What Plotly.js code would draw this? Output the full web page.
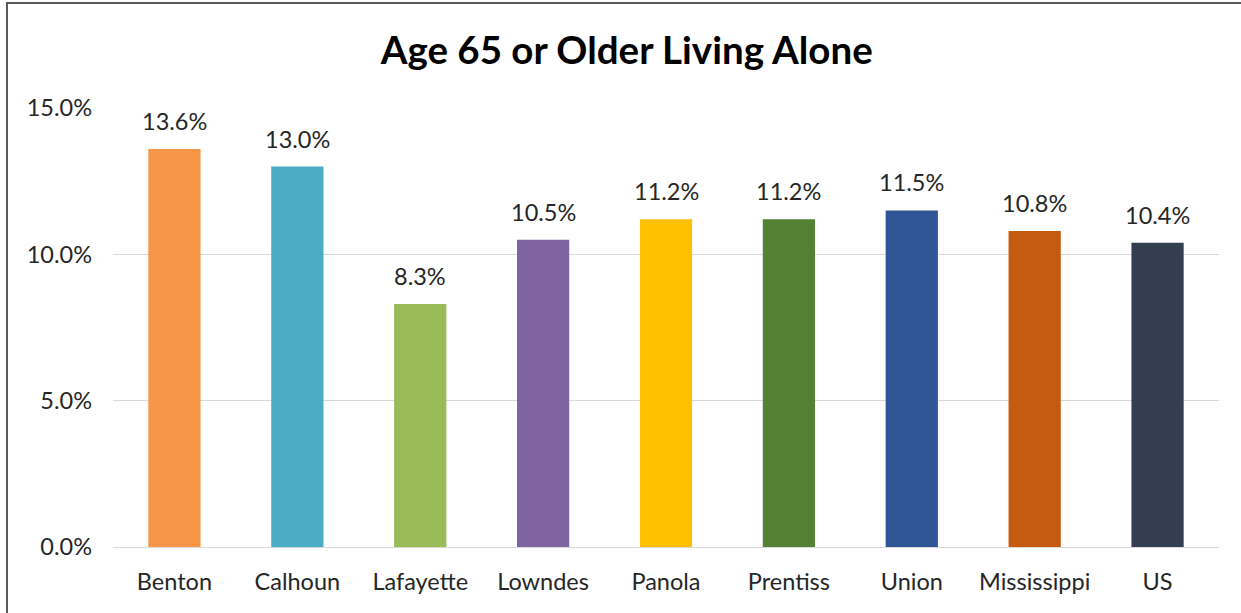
<!DOCTYPE html>
<html>
<head>
<meta charset="utf-8">
<script src="https://cdn.plot.ly/plotly-3.0.1.min.js"></script>
<style>
  html, body { margin: 0; padding: 0; background: #fff; }
  #frame { position: absolute; left: 6px; top: 2px; width: 1240px; height: 620px;
           border-left: 2px solid #595959; border-top: 2px solid #595959; pointer-events: none; z-index: 5; }
  #chart { position: absolute; left: 0; top: 0; width: 1241px; height: 613px; }
</style>
</head>
<body>
<div id="chart"></div>
<div id="frame"></div>
<script>
const categories = ["Benton", "Calhoun", "Lafayette", "Lowndes", "Panola", "Prentiss", "Union", "Mississippi", "US"];
const values = [13.6, 13.0, 8.3, 10.5, 11.2, 11.2, 11.5, 10.8, 10.4];
const barColors = ["#F79646", "#4BACC6", "#9BBB59", "#8064A2", "#FFC000", "#548235", "#2F5597", "#C55A11", "#333F50"];
const yTicks = [0, 5, 10, 15];

const fontFam = "Lato, 'Open Sans', sans-serif";
const textColor = "#262626";

const trace = {
  type: "bar",
  x: categories,
  y: values,
  marker: { color: barColors },
  hoverinfo: "skip"
};

const annotations = categories.map((c, i) => ({
  x: c, y: values[i], xref: "x", yref: "y",
  text: values[i].toFixed(1) + "%",
  showarrow: false, yanchor: "bottom", yshift: 12,
  font: { family: fontFam, size: 23.5, color: textColor }
}));

const layout = {
  width: 1241, height: 613,
  margin: { l: 113, r: 22, t: 108, b: 66 },
  paper_bgcolor: "#fff", plot_bgcolor: "#fff",
  bargap: 0.575,
  showlegend: false,
  title: { text: "<b>Age 65 or Older Living Alone</b>", x: 0.505, xanchor: "center", y: 0.918, yanchor: "middle",
           font: { family: fontFam, size: 38.5, color: "#000" } },
  xaxis: { type: "category", showgrid: false, showline: true, linecolor: "#d9d9d9", linewidth: 1,
           ticks: "", ticklabelstandoff: 14,
           tickfont: { family: fontFam, size: 23.5, color: textColor }, fixedrange: true },
  yaxis: { range: [0, 15], tickvals: yTicks, ticktext: yTicks.map(v => v.toFixed(1) + "%"),
           showgrid: true, gridcolor: "#d9d9d9", gridwidth: 1, zeroline: false, showline: false,
           ticks: "", ticklabelstandoff: 20,
           tickfont: { family: fontFam, size: 23.5, color: textColor }, fixedrange: true },
  annotations: annotations
};

Plotly.newPlot("chart", [trace], layout, { displayModeBar: false, staticPlot: true });
</script>
</body>
</html>
